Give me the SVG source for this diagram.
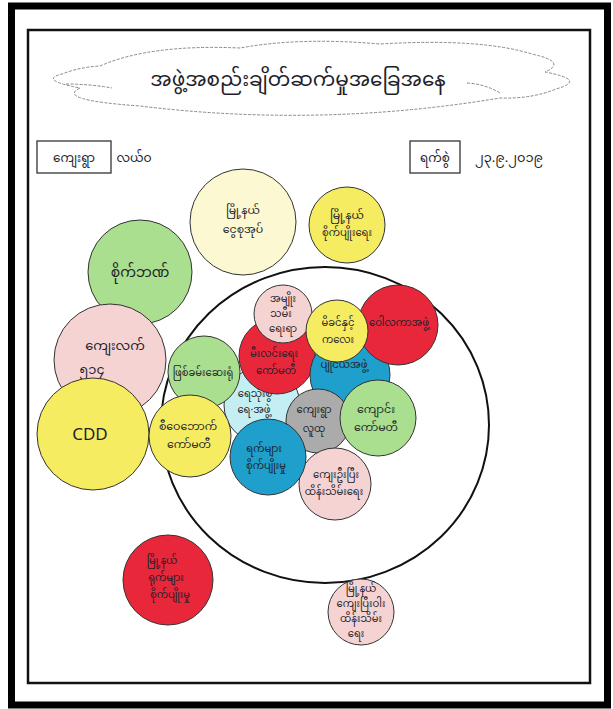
<svg xmlns="http://www.w3.org/2000/svg" width="613" height="709" viewBox="0 0 613 709">
<style>
.t{font-family:"Noto Sans Myanmar","Padauk","Myanmar Text","Noto Sans","DejaVu Sans",sans-serif;fill:#1e1e2a;text-anchor:middle}
.s{font-size:11px}
.x{font-size:10px}
.c{stroke:#333;stroke-width:1}
.cream{fill:#fbf8d2}.yel{fill:#f6ec62}.grn{fill:#a9df8e}.pnk{fill:#f6d3d3}.red{fill:#e8283a}.blu{fill:#1f9fcb}.cyn{fill:#c3eff4}.gry{fill:#ababab}
.box{fill:#fff;stroke:#333;stroke-width:1.3}
.cl{fill:none;stroke:#888;stroke-width:1;stroke-dasharray:3,1.5}
</style>
<rect x="0" y="0" width="613" height="709" fill="#fff"/>
<rect x="11.5" y="6" width="596" height="699" fill="none" stroke="#000" stroke-width="7"/>
<rect x="28" y="30" width="562" height="653" fill="none" stroke="#111" stroke-width="2.5"/>
<g id="title">
<path class="cl" d="M100,66 Q150,44 240,48 Q300,37 380,44 Q480,38 532,54 Q568,62 545,72 Q588,80 556,89 Q532,99 500,98 Q320,128 140,106 Q55,100 80,88 Q38,80 62,74 Q80,67 100,66 Z"/>
<path class="cl" d="M467,83 Q485,84 500,93"/>
<path class="cl" d="M66,84 Q90,84 112,88"/>
<text class="t" x="298" y="86" font-size="20">အဖွဲ့အစည်းချိတ်ဆက်မှုအခြေအနေ</text>
</g>
<g id="village">
<rect class="box" x="37" y="141" width="74" height="32"/>
<text class="t" x="74" y="162" font-size="12">ကျေးရွာ</text>
<text class="t" x="134" y="162" font-size="12" fill="#333366">လယ်ဝ</text>
</g>
<g id="date">
<rect class="box" x="410" y="141" width="50" height="32"/>
<text class="t" x="435" y="162" font-size="12">ရက်စွဲ</text>
<text class="t" x="509" y="162" font-size="13" fill="#333366">၂၃.၉.၂၀၁၉</text>
</g>
<g id="connectors">
<ellipse cx="325" cy="425" rx="164" ry="158" fill="none" stroke="#111" stroke-width="2"/>
</g>
<g id="n3"><circle class="c grn" cx="140" cy="272" r="52"/><text class="t" x="140" y="277" font-size="14">စိုက်ဘဏ်</text></g>
<g id="n1"><circle class="c cream" cx="243" cy="222" r="53"/><text class="t s" x="243" y="214">မြို့နယ်<tspan x="243" dy="19">ငွေစုအုပ်</tspan></text></g>
<g id="n2"><circle class="c yel" cx="347" cy="225" r="38"/><text class="t s" x="347" y="219">မြို့နယ်<tspan class="x" x="347" dy="17">စိုက်ပျိုးရေး</tspan></text></g>
<g id="n4"><circle class="c pnk" cx="110" cy="360" r="56"/><text class="t" x="115" y="350" font-size="13">ကျေးလက်<tspan x="92" dy="24">၅၁၄</tspan></text></g>
<g id="n5"><circle class="c yel" cx="93" cy="434" r="56"/><text class="t" x="90" y="440" font-size="17" font-family="Liberation Sans,sans-serif">CDD</text></g>
<g id="n13"><circle class="c cyn" cx="262" cy="405" r="38"/><text class="t x" x="255" y="397">ရေသုံးစွဲ<tspan x="254" dy="16">ရေ·အဖွဲ့</tspan></text></g>
<g id="n11"><circle class="c red" cx="277" cy="356" r="38"/><text class="t x" x="274" y="357">မီးလင်းရေး<tspan x="276" dy="17">ကော်မတီ</tspan></text></g>
<g id="n12"><circle class="c blu" cx="350" cy="375" r="40"/><text class="t x" x="344" y="368">ပျိုငယ်အဖွဲ့</text></g>
<g id="n9"><circle class="c red" cx="398" cy="325" r="40"/><text class="t x" x="399" y="326">ဝေါလကာအဖွဲ့</text></g>
<g id="n8"><circle class="c pnk" cx="283" cy="314" r="29"/><text class="t x" x="283" y="302">အမျိုး<tspan x="281" dy="15">သမီး</tspan><tspan x="283" dy="15">ရေးရာ</tspan></text></g>
<g id="n10"><circle class="c yel" cx="337" cy="331" r="31"/><text class="t x" x="338" y="326">မိခင်နှင့်<tspan x="338" dy="17">ကလေး</tspan></text></g>
<g id="n14"><circle class="c gry" cx="318" cy="421" r="32"/><text class="t x" x="314" y="413">ကျေးရွာ<tspan x="314" dy="19">လူထု</tspan></text></g>
<g id="n17"><circle class="c pnk" cx="335" cy="484" r="36"/><text class="t x" x="336" y="478">ကျေးဦးပြီး<tspan x="334" dy="17">ထိန်းသိမ်းရေး</tspan></text></g>
<g id="n16"><circle class="c blu" cx="268" cy="457" r="38"/><text class="t x" x="264" y="452">ရက်များ<tspan x="266" dy="17">စိုက်ပျိုးမှု</tspan></text></g>
<g id="n15"><circle class="c grn" cx="378" cy="418" r="38"/><text class="t s" x="376" y="413">ကျောင်း<tspan x="376" dy="18">ကော်မတီ</tspan></text></g>
<g id="n6"><circle class="c grn" cx="204" cy="372" r="36"/><text class="t x" x="203" y="376">ဖြစ်ခမ်းဆေးရုံ</text></g>
<g id="n7"><circle class="c yel" cx="190" cy="436" r="41"/><text class="t s" x="188" y="430">စီဝေဘောက်<tspan x="189" dy="18">ကော်မတီ</tspan></text></g>
<g id="n18"><circle class="c red" cx="168" cy="580" r="45"/><text class="t x" x="162" y="564">မြို့နယ်<tspan x="166" dy="17">ရုက်များ</tspan><tspan x="170" dy="17">စိုက်ပျိုးမှု</tspan></text></g>
<g id="n19"><circle class="c pnk" cx="361" cy="612" r="33"/><text class="t x" x="361" y="592">မြို့နယ်<tspan x="361" dy="15">ကျေးပြီးဝါး</tspan><tspan x="361" dy="15">ထိန်းသိမ်း</tspan><tspan x="356" dy="15">ရေး</tspan></text></g>
</svg>
